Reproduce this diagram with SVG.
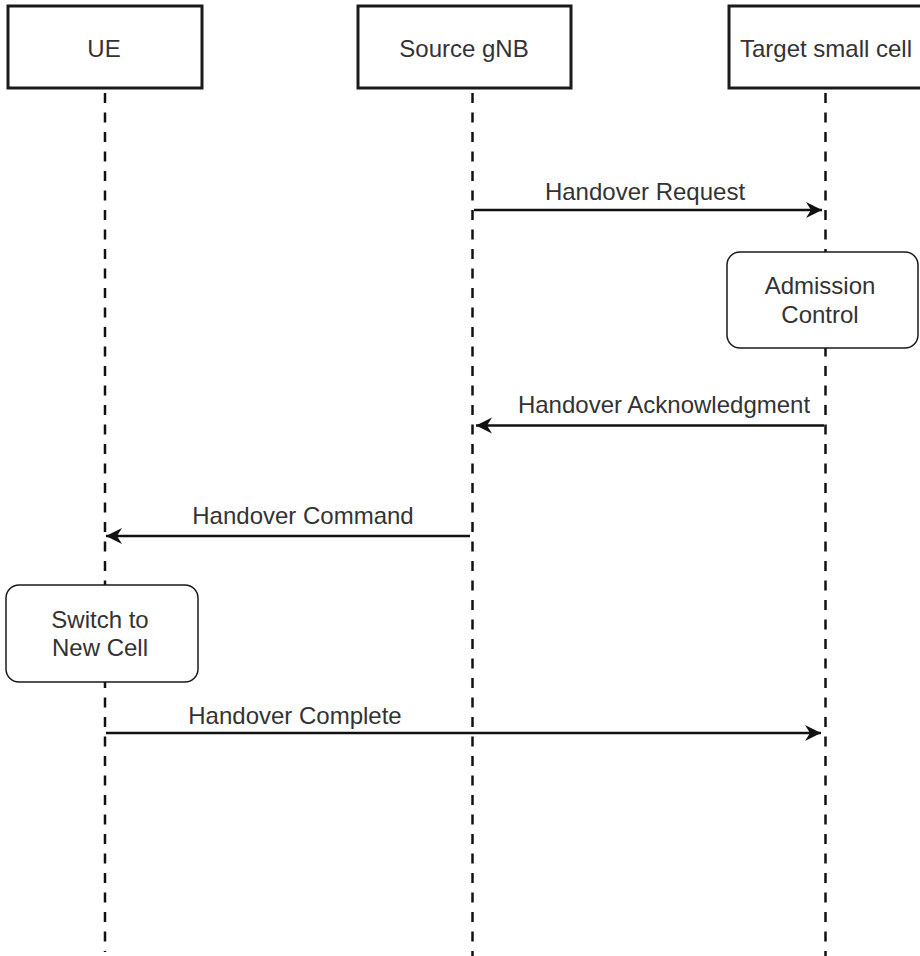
<svg xmlns="http://www.w3.org/2000/svg" width="920" height="956" viewBox="0 0 920 956">
  <style>
    .lbl { font-family: "Liberation Sans", Arial, sans-serif; font-size: 24px; fill: #333333; text-anchor: middle; }
    .actor { fill: #ffffff; stroke: #1a1a1a; stroke-width: 3; }
    .note { fill: #ffffff; stroke: #1a1a1a; stroke-width: 1.5; }
    .life { fill: none; stroke: #111111; stroke-width: 2.5; stroke-dasharray: 10 9.5; }
    .msg { fill: none; stroke: #111111; stroke-width: 2.5; marker-end: url(#head); }
  </style>
  <defs>
    <marker id="head" markerUnits="userSpaceOnUse" markerWidth="20" markerHeight="18" refX="16" refY="8" orient="auto">
      <path d="M0,0 L16,8 L0,16 L5,8 Z" fill="#111111"/>
    </marker>
  </defs>
  <rect width="920" height="956" fill="#ffffff"/>

  <!-- lifelines -->
  <g id="lifelines">
    <line class="life" x1="105" y1="93" x2="105" y2="952"/>
    <line class="life" x1="472.5" y1="93" x2="472.5" y2="956"/>
    <line class="life" x1="825.5" y1="93" x2="825.5" y2="956"/>
  </g>

  <!-- participants -->
  <g id="ue">
    <rect class="actor" x="8" y="6" width="194" height="82"/>
    <text class="lbl" x="104" y="57">UE</text>
  </g>
  <g id="source-gnb">
    <rect class="actor" x="358" y="6" width="213" height="82"/>
    <text class="lbl" x="464" y="57">Source gNB</text>
  </g>
  <g id="target-small-cell">
    <rect class="actor" x="729" y="6" width="200" height="82"/>
    <text class="lbl" x="826" y="57">Target small cell</text>
  </g>

  <!-- activity notes -->
  <g id="admission-control">
    <rect class="note" x="727" y="252" width="191" height="96" rx="13"/>
    <text class="lbl" x="820" y="294">Admission</text>
    <text class="lbl" x="820" y="323">Control</text>
  </g>
  <g id="switch-to-new-cell">
    <rect class="note" x="6" y="585" width="192" height="97" rx="13"/>
    <text class="lbl" x="100" y="628">Switch to</text>
    <text class="lbl" x="100" y="656">New Cell</text>
  </g>

  <!-- messages -->
  <g id="connectors">
    <line class="msg" x1="474" y1="210" x2="822" y2="210"/>
    <line class="msg" x1="824" y1="425.5" x2="476" y2="425.5"/>
    <line class="msg" x1="470" y1="536" x2="106" y2="536"/>
    <line class="msg" x1="106" y1="733" x2="821" y2="733"/>
  </g>
  <g id="connector-labels">
    <text class="lbl" x="645" y="200">Handover Request</text>
    <text class="lbl" x="664" y="413">Handover Acknowledgment</text>
    <text class="lbl" x="303" y="524">Handover Command</text>
    <text class="lbl" x="295" y="724">Handover Complete</text>
  </g>
</svg>
